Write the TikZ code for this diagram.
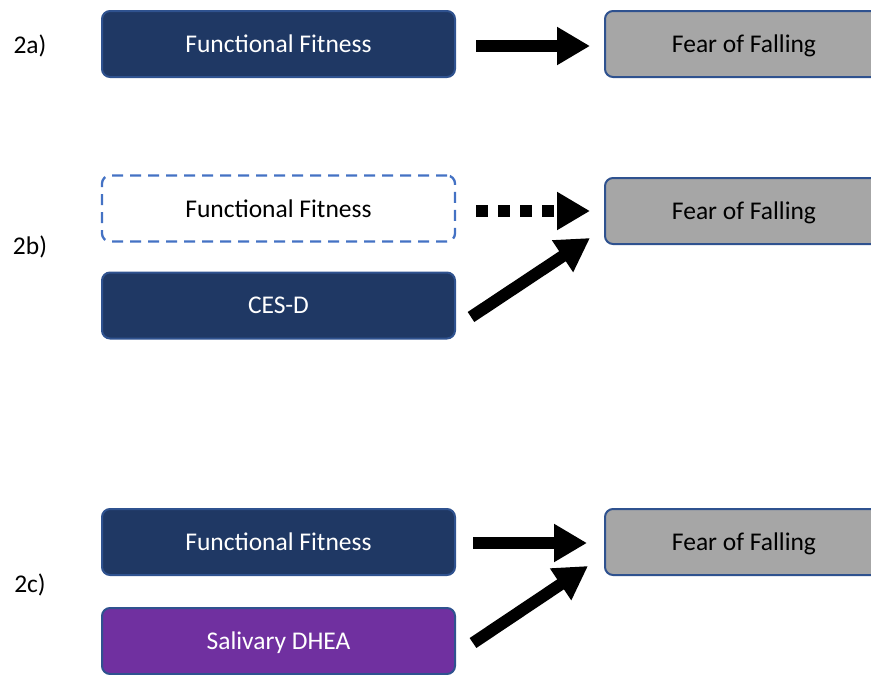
\documentclass[tikz,border=0pt]{standalone}
\usepackage{fontspec}
\setmainfont{Carlito}
\usetikzlibrary{arrows.meta}
\definecolor{navy}{HTML}{1F3864}
\definecolor{navyedge}{HTML}{2F528F}
\definecolor{grayfill}{HTML}{A6A6A6}
\definecolor{dashblue}{HTML}{4472C4}
\definecolor{purp}{HTML}{7030A0}
\tikzset{
  box/.style={rectangle, rounded corners=8pt, line width=2pt, minimum width=353pt, minimum height=66pt, font=\fontsize{25.5}{28}\selectfont, inner sep=0pt, text depth=0pt},
  darkbox/.style={box, fill=navy, draw=navyedge, text=white},
  purpbox/.style={box, fill=purp, draw=navyedge, text=white},
  dashbox/.style={box, fill=white, draw=dashblue, line width=2.3pt, dash pattern=on 11pt off 7pt, text=black},
  graybox/.style={box, fill=grayfill, draw=navyedge, text=black, minimum width=278pt},
  bigarrow/.style={line width=12pt, -{Triangle[length=33pt,width=36pt]}},
  dotarrow/.style={bigarrow, dash pattern=on 12pt off 10pt},
  lbl/.style={font=\fontsize{25.5}{28}\selectfont, text=black}
}
\begin{document}
\begin{tikzpicture}[x=1pt,y=-1pt]
\useasboundingbox (0,0) rectangle (871,675);
% 2a
\node[lbl] (la) at (30,46) {2a)};
\node[darkbox] (ff1) at (278.5,44) {Functional Fitness};
\node[graybox, anchor=west] (fof1) at (604,44) {Fear of Falling};
\draw[bigarrow] ([xshift=20pt,yshift=-2pt]ff1.east) -- ([xshift=-14pt,yshift=-2pt]fof1.west);
% 2b
\node[lbl] (lb) at (30,247) {2b)};
\node[dashbox] (ff2) at (278.5,208.5) {Functional Fitness};
\node[darkbox] (ces) at (278.5,305.5) {CES-D};
\node[graybox, anchor=west] (fof2) at (604,211) {Fear of Falling};
\draw[dotarrow] ([xshift=20pt,yshift=-2.5pt]ff2.east) -- ([xshift=-14pt]fof2.west);
\draw[bigarrow] ([xshift=15pt,yshift=-11.5pt]ces.east) -- ([xshift=-14pt,yshift=-27pt]fof2.west);
% 2c
\node[lbl] (lc) at (30,585) {2c)};
\node[darkbox] (ff3) at (278.5,542) {Functional Fitness};
\node[purpbox] (dhea) at (278.5,641) {Salivary DHEA};
\node[graybox, anchor=west] (fof3) at (604,542) {Fear of Falling};
\draw[bigarrow] ([xshift=17pt,yshift=-1pt]ff3.east) -- ([xshift=-17pt,yshift=-1pt]fof3.west);
\draw[bigarrow] ([xshift=17pt,yshift=-2pt]dhea.east) -- ([xshift=-16pt,yshift=-24pt]fof3.west);
\end{tikzpicture}
\end{document}
